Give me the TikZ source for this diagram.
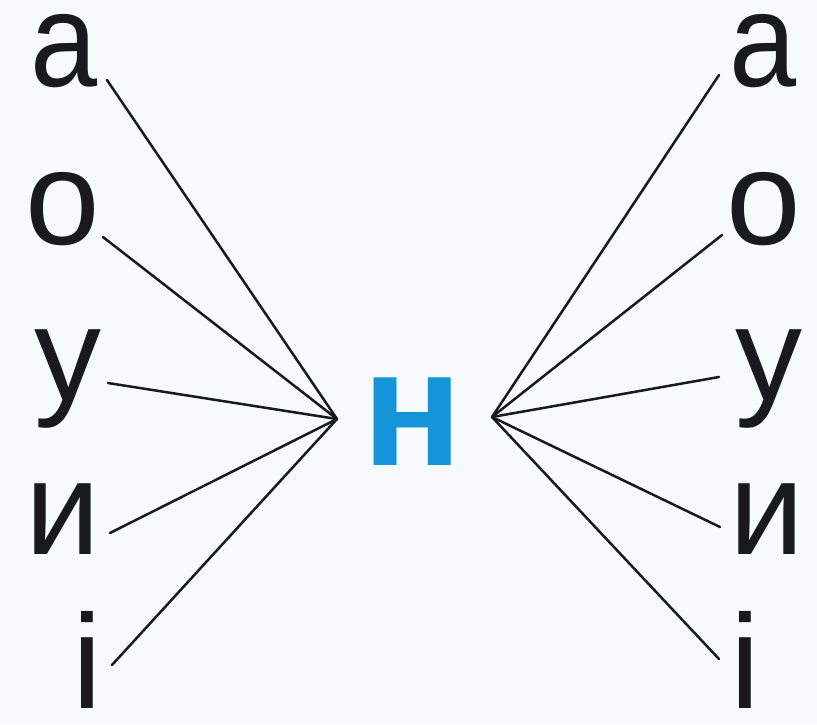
\documentclass[tikz,border=0pt]{standalone}
\usepackage{fontspec}
\setmainfont{Liberation Sans}
\definecolor{bg}{RGB}{247,250,251}
\definecolor{nblue}{RGB}{22,148,218}
\definecolor{ink}{RGB}{25,25,30}
\tikzset{
  letter/.style={inner sep=0pt, anchor=base, text=ink, text height=0.5em, text depth=0pt,
                 font=\fontsize{134}{140}\selectfont},
  tall/.style={text height=0.7em},
  deep/.style={text depth=0.2em},
  center letter/.style={inner sep=0pt, anchor=base, text=nblue, text height=0.5em, text depth=0pt,
                        font=\fontsize{166}{170}\selectfont\bfseries},
  link/.style={draw=ink, line width=2.5pt, line cap=round}
}
\begin{document}
\begin{tikzpicture}[x=1pt,y=-1pt]
\fill[bg] (0,0) rectangle (817,724);
\useasboundingbox (0,0) rectangle (817,724);
% centre letter
\node[center letter] (n) at (413,465) {н};
% left letters
\node[letter] (la) at (64,86) {\scalebox{0.9}[1]{а}};
\node[letter] (lo) at (63,244) {о};
\node[letter, deep] (lu) at (68,400) {у};
\node[letter] (li) at (63,554) {и};
\node[letter, tall] (lii) at (87,708) {і};
% right letters
\node[letter] (ra) at (763,86) {\scalebox{0.9}[1]{а}};
\node[letter] (ro) at (764,244) {о};
\node[letter, deep] (ru) at (769,400) {у};
\node[letter] (ri) at (767,554) {и};
\node[letter, tall] (rii) at (745,708) {і};
% convergence points
\coordinate (cl) at (337,419);
\coordinate (cr) at (492,417);
% line ends near letters
\coordinate (pla) at (107,80);
\coordinate (plo) at (103,237);
\coordinate (plu) at (108,383);
\coordinate (pli) at (110,533);
\coordinate (plii) at (112,665);
\coordinate (pra) at (719,75);
\coordinate (pro) at (722,235);
\coordinate (pru) at (719,377);
\coordinate (pri) at (720,527);
\coordinate (prii) at (719,659);
\foreach \p in {pla,plo,plu,pli,plii} \draw[link] (\p) -- (cl);
\foreach \p in {pra,pro,pru,pri,prii} \draw[link] (\p) -- (cr);
\end{tikzpicture}
\end{document}
